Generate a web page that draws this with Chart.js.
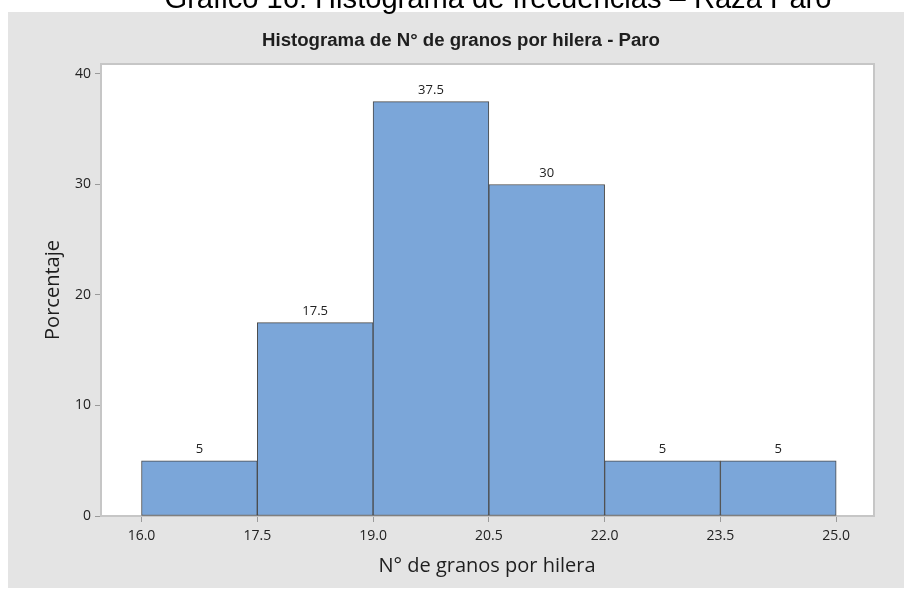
<!DOCTYPE html>
<html><head><meta charset="utf-8">
<script src="https://cdn.jsdelivr.net/npm/chart.js@4"></script>
<style>html,body{margin:0;padding:0;background:#fff;} canvas{display:block}</style>
</head><body>
<canvas id="c" width="904" height="589"></canvas>
<script>
const binEdges = [16.0, 17.5, 19.0, 20.5, 22.0, 23.5, 25.0];
const percentages = [5, 17.5, 37.5, 30, 5, 5];
const yTicks = [0, 10, 20, 30, 40];
const xTickLabels = ['16.0', '17.5', '19.0', '20.5', '22.0', '23.5', '25.0'];
const pageTitle = 'Gráfico 16: Histograma de frecuencias – Raza Paro';
const chartTitle = 'Histograma de N° de granos por hilera - Paro';
const xTitle = 'N° de granos por hilera';
const yTitle = 'Porcentaje';

const barData = percentages.map((v, i) => ({ x: (binEdges[i] + binEdges[i + 1]) / 2, y: v }));
const AXIS_FONT = '"Open Sans", "Noto Sans", sans-serif';

const deco = {
  id: 'deco',
  beforeDraw(chart) {
    const { ctx, chartArea: a } = chart;
    ctx.save();
    ctx.fillStyle = '#ffffff';
    ctx.fillRect(0, 0, 904, 589);
    ctx.fillStyle = '#e4e4e4';
    ctx.fillRect(8, 12, 896, 576);
    ctx.fillStyle = '#ffffff';
    ctx.fillRect(a.left, a.top, a.right - a.left, a.bottom - a.top);
    // cut page title
    ctx.fillStyle = '#000';
    ctx.textAlign = 'center';
    ctx.textBaseline = 'alphabetic';
    ctx.font = '27px "Liberation Sans", Arial, sans-serif';
    let w = ctx.measureText(pageTitle).width;
    let fs = 27 * 667 / w;
    ctx.font = fs.toFixed(2) + 'px "Liberation Sans", Arial, sans-serif';
    ctx.fillText(pageTitle, 498, 8);
    // chart title (narrow bold)
    ctx.save();
    ctx.fillStyle = '#1e1e1e';
    ctx.font = 'bold 18px "Liberation Sans", Arial, sans-serif';
    w = ctx.measureText(chartTitle).width;
    const sx = 398 / w;
    ctx.translate(461, 46);
    ctx.scale(sx, 1);
    ctx.fillText(chartTitle, 0, 0);
    ctx.restore();
    // axis titles
    ctx.fillStyle = '#1e1e1e';
    ctx.font = '20px ' + AXIS_FONT;
    ctx.textBaseline = 'middle';
    ctx.fillText(xTitle, 487, 566);
    ctx.translate(53, (a.top + a.bottom) / 2);
    ctx.rotate(-Math.PI / 2);
    ctx.fillText(yTitle, 0, 0);
    ctx.restore();
  },
  beforeDatasetsDraw(chart) {
    const { ctx, chartArea: a } = chart;
    ctx.save();
    ctx.strokeStyle = '#c6c6c6';
    ctx.lineWidth = 2;
    ctx.strokeRect(a.left, a.top, a.right - a.left, a.bottom - a.top);
    ctx.restore();
  },
  afterDatasetsDraw(chart) {
    const { ctx } = chart;
    const meta = chart.getDatasetMeta(0);
    ctx.save();
    ctx.fillStyle = '#222';
    ctx.font = '13px ' + AXIS_FONT;
    ctx.textAlign = 'center';
    ctx.textBaseline = 'bottom';
    meta.data.forEach((el, i) => {
      ctx.fillText(String(percentages[i]), el.x, el.y - 5);
    });
    ctx.restore();
  }
};

new Chart(document.getElementById('c'), {
  type: 'bar',
  data: {
    datasets: [{
      data: barData,
      backgroundColor: '#7ba6d9',
      borderColor: '#4a4a4a',
      borderWidth: 1,
      borderSkipped: false,
      barPercentage: 1,
      categoryPercentage: 1
    }]
  },
  options: {
    responsive: false,
    animation: false,
    devicePixelRatio: 1,
    layout: { padding: { left: 0, top: 64, right: 30, bottom: 0 } },
    plugins: { legend: { display: false }, title: { display: false }, tooltip: { enabled: false } },
    scales: {
      x: {
        type: 'linear',
        offset: false,
        min: 15.475,
        max: 25.49,
        afterBuildTicks: s => { s.ticks = binEdges.map(v => ({ value: v })); },
        afterFit: s => { s.height = 73; },
        ticks: {
          autoSkip: false,
          maxRotation: 0,
          padding: 6,
          color: '#222',
          font: { family: AXIS_FONT, size: 14 },
          callback: (v, i) => xTickLabels[i]
        },
        grid: { offset: false, drawOnChartArea: false, drawTicks: true, tickLength: 6, color: '#9a9a9a' },
        border: { display: false }
      },
      y: {
        min: 0,
        max: 40.9,
        afterBuildTicks: s => { s.ticks = yTicks.map(v => ({ value: v })); },
        afterFit: s => { s.width = 101; },
        ticks: {
          padding: 4,
          color: '#222',
          font: { family: AXIS_FONT, size: 14 },
          callback: v => String(v)
        },
        grid: { drawOnChartArea: false, drawTicks: true, tickLength: 6, color: '#9a9a9a' },
        border: { display: false }
      }
    }
  },
  plugins: [deco]
});
</script>
</body></html>
